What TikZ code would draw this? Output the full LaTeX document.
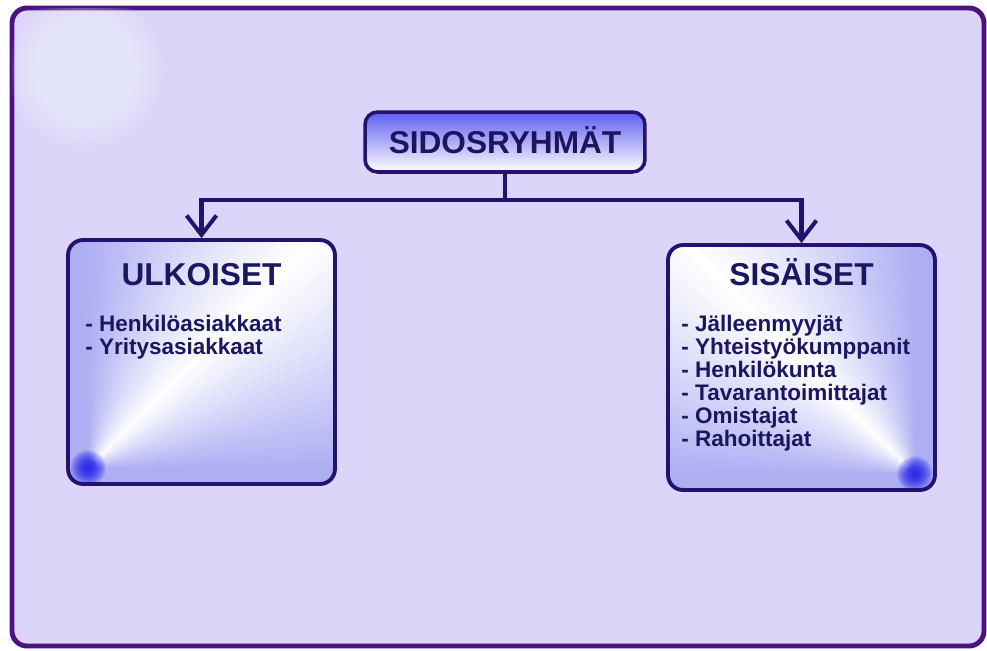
\documentclass[tikz,border=0pt]{standalone}
\usepackage{fontspec}
\setmainfont{Liberation Sans}
\usepackage{xcolor}
\definecolor{frameLine}{HTML}{4B1382}
\definecolor{frameFill}{HTML}{DCD5F9}
\definecolor{boxLine}{HTML}{23136E}
\definecolor{boxBlue}{HTML}{AEAEF3}
\definecolor{boxCorner}{HTML}{1010E8}
\definecolor{topBlue}{HTML}{5E5EF0}
\definecolor{textNavy}{HTML}{1C1660}
\usetikzlibrary{arrows.meta,positioning,calc}
\tikzset{
    topbox/.style={
        draw=boxLine,
        line width=2pt,
        rounded corners=2.5mm,
        top color=topBlue,
        bottom color=white,
        minimum width=5.6cm,
        minimum height=1.2cm,
        text height=13pt,
        text depth=0pt,
        text=textNavy,
        font=\fontsize{18}{20}\selectfont\bfseries
    },
    groupbox/.style={
        draw=boxLine,
        line width=2.2pt,
        rounded corners=3mm,
        fill=boxBlue,
        minimum width=5.34cm,
        minimum height=4.88cm
    },
    conicfill/.style n args={3}{
        path picture={
            \coordinate (kulma) at ($(path picture bounding box.#1)+#3$);
            \foreach \a in {0,2,...,88} {
                \pgfmathsetmacro\p{100*(1-abs(\a+1-45)/45)}
                \fill[white!\p!boxBlue] (kulma) -- +({#2+\a}:10cm) -- +({#2+\a+2.3}:10cm) -- cycle;
            }
            \foreach \r in {1,2,...,10}
                \fill[boxCorner, opacity=0.16] (kulma) circle (\r pt);
        }
    },
    heading/.style={
        anchor=base,
        inner sep=0pt,
        text=textNavy,
        font=\fontsize{18}{20}\selectfont\bfseries
    },
    entry/.style={
        anchor=base west,
        inner sep=0pt,
        text=textNavy,
        font=\fontsize{12.8}{13}\selectfont\bfseries
    },
    link/.style={
        line width=2.3pt,
        draw=boxLine
    },
    arrow/.style={
        -{Straight Barb[length=11pt,width=17pt]},
        line width=2.3pt,
        draw=boxLine
    }
}
\begin{document}
\begin{tikzpicture}[x=0.02cm, y=-0.02cm]
    \useasboundingbox (0,0) rectangle (987,650);
    \fill[white] (0,0) rectangle (987,650);
    \draw[frameLine, line width=2.8pt, fill=frameFill, rounded corners=3mm] (12,8) rectangle (984,646);
    \begin{scope}
        \clip[rounded corners=3mm] (12,8) rectangle (984,646);
        \foreach \r in {0.04,0.08,...,1.6}
            \fill[white, opacity=0.035] (85,70) circle (\r cm);
    \end{scope}

    \node[topbox] (sidos) at (505,142) {SIDOSRYHMÄT};
    \node[groupbox, conicfill={south west}{0}{(20,-16)}] (ulko) at (201.5,362) {};
    \node[groupbox, minimum height=4.9cm, conicfill={south east}{90}{(-20,-16)}] (sisa) at (801.5,367.5) {};

    \node[heading] (ulkoTitle) at ($(ulko.north)+(0,47)$) {ULKOISET};
    \node[heading] (sisaTitle) at ($(sisa.north)+(0,42)$) {SISÄISET};

    \foreach \nimi [count=\i] in {Henkilöasiakkaat, Yritysasiakkaat}
        \node[entry] (ulko-\i) at ($(ulko.north west)+(19,{70+23*\i})$) {- \nimi};
    \foreach \nimi [count=\i] in {Jälleenmyyjät, Yhteistyökumppanit, Henkilökunta,
        Tavarantoimittajat, Omistajat, Rahoittajat}
        \node[entry] (sisa-\i) at ($(sisa.north west)+(15,{65+23*\i})$) {- \nimi};

    \coordinate (haara) at ($(sidos.south)+(0,26)$);
    \draw[link] (sidos.south) -- (haara);
    \draw[arrow] (haara) -| (ulko.north);
    \draw[arrow] (haara) -| (sisa.north);
\end{tikzpicture}
\end{document}
